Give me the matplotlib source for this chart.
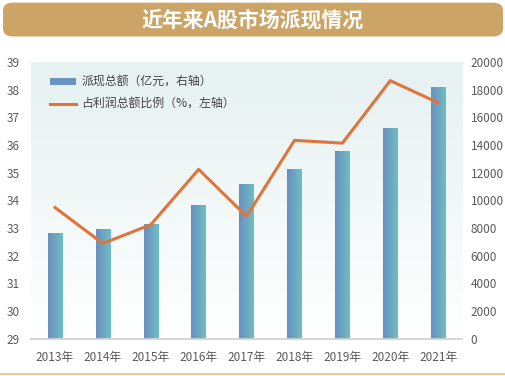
import numpy as np
import matplotlib
matplotlib.use('Agg')
import matplotlib.pyplot as plt
from matplotlib.patches import FancyBboxPatch
from matplotlib.colors import LinearSegmentedColormap

plt.rcParams['font.family'] = ['Noto Sans CJK SC', 'DejaVu Sans']

years = ['2013年', '2014年', '2015年', '2016年', '2017年', '2018年', '2019年', '2020年', '2021年']
payout = [7620, 7960, 8320, 9650, 11170, 12260, 13570, 15200, 18230]
ratio = [33.74, 32.44, 33.12, 35.12, 33.42, 36.17, 36.07, 38.33, 37.53]

fig = plt.figure(figsize=(5.06, 3.76), dpi=100)

# title banner
banner = FancyBboxPatch((0.006, 0.903), 0.988, 0.09, boxstyle='round,pad=0,rounding_size=0.02',
                        transform=fig.transFigure, facecolor='#CCA566', edgecolor='none')
fig.patches.append(banner)
fig.text(0.5, 0.948, '近年来A股市场派现情况', ha='center', va='center', color='white',
         fontsize=15, fontweight='bold')
fig.add_artist(plt.Line2D([0, 1], [0.006, 0.006], color='#F5C9A0', lw=1.5, transform=fig.transFigure))

ax = fig.add_axes([0.0613, 0.0997, 0.852, 0.735])
ax2 = ax.twinx()
ax.set_zorder(ax2.get_zorder() + 1)
ax.patch.set_visible(False)

x = np.arange(len(years))
ax2.set_xlim(-0.5, len(years) - 0.5)
ax2.set_ylim(0, 20000)

# background gradient
bg = LinearSegmentedColormap.from_list('bg', ['#FFFFFF', '#E6F1F1'])
grad = np.linspace(0, 1, 256).reshape(-1, 1)
ax2.imshow(grad, aspect='auto', cmap=bg, origin='lower',
           extent=(-0.5, len(years) - 0.5, 0, 20000), zorder=0)

barcm = LinearSegmentedColormap.from_list('bar', ['#6B8FC0', '#6EBEC3'])
hgrad = np.linspace(0, 1, 64).reshape(1, -1)
bars = ax2.bar(x, payout, width=0.3, color='#6BA5C2', zorder=2)
for b in bars:
    bx, by = b.get_x(), b.get_y()
    im = ax2.imshow(hgrad, aspect='auto', cmap=barcm,
                    extent=(bx, bx + b.get_width(), by, by + b.get_height()), zorder=3)
    im.set_clip_path(b)
ax2.set_xlim(-0.5, len(years) - 0.5)
ax2.set_ylim(0, 20000)

line, = ax.plot(x, ratio, color='#E0743A', lw=2.2, zorder=5)
ax.set_ylim(29, 39)
ax.set_xlim(-0.5, len(years) - 0.5)
ax.set_yticks(range(29, 40))
ax2.set_yticks(range(0, 20001, 2000))
ax.set_xticks(x)
ax.set_xticklabels(years)

for a in (ax, ax2):
    for s in ['top', 'left', 'right']:
        a.spines[s].set_visible(False)
    a.spines['bottom'].set_color('#D5D5D5')
    a.spines['bottom'].set_linewidth(1.2)
    a.tick_params(length=0, labelsize=8.5, colors='#5A5A5A')
ax.tick_params(axis='x', pad=9)
ax.tick_params(axis='y', pad=8)
ax2.tick_params(axis='y', pad=6)

leg = ax.legend([bars, line], ['派现总额（亿元，右轴）', '占利润总额比例（%，左轴）'],
                loc='upper left', bbox_to_anchor=(0.018, 0.99), frameon=False,
                fontsize=8.6, handlelength=2.2, handleheight=0.5, labelspacing=0.75,
                handletextpad=0.45)
for t in leg.get_texts():
    t.set_color('#444444')
leg.legend_handles[0].set_facecolor('#6A93C0')

fig.savefig('out.png', dpi=100)
